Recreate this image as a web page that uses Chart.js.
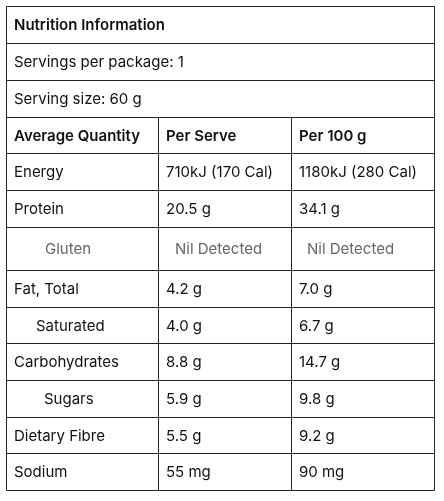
<!DOCTYPE html>
<html>
<head>
<meta charset="utf-8">
<script src="https://cdn.jsdelivr.net/npm/chart.js@4/dist/chart.umd.min.js"></script>
<style>
  html, body { margin: 0; padding: 0; background: #fff; }
  #wrap { width: 444px; height: 501px; position: relative; }
</style>
</head>
<body>
<div id="wrap"><canvas id="tabla"></canvas></div>
<script>
// Datos de la tabla
const titulo = 'Nutrition Information';
const infoLineas = ['Servings per package: 1', 'Serving size: 60 g'];
const encabezados = ['Average Quantity', 'Per Serve', 'Per 100 g'];
const nutrientes = ['Energy', 'Protein', 'Gluten', 'Fat, Total', 'Saturated', 'Carbohydrates', 'Sugars', 'Dietary Fibre', 'Sodium'];
const porPorcion = ['710kJ (170 Cal)', '20.5 g', 'Nil Detected', '4.2 g', '4.0 g', '8.8 g', '5.9 g', '5.5 g', '55 mg'];
const por100g = ['1180kJ (280 Cal)', '34.1 g', 'Nil Detected', '7.0 g', '6.7 g', '14.7 g', '9.8 g', '9.2 g', '90 mg'];
const sangria = [0, 0, 1, 0, 1, 0, 1, 0, 0];

document.addEventListener('DOMContentLoaded', function () {
  const canvas = document.getElementById('tabla');
  if (!canvas || typeof Chart === 'undefined') { console.warn('Chart.js no está cargado'); return; }

  /* ===== Tabla dibujada como plugin ===== */
  const tablaPlugin = {
    id: 'tablaNutricional',
    afterDraw(chart) {
      const ctx = chart.ctx;
      const L = 6, R = 434, C1 = 158, C2 = 291;
      const alturas = [37, 37, 37, 36, 37, 37, 43, 37, 36, 37, 37, 36, 37];
      let y = 6;
      const filas = [];
      alturas.forEach(h => { filas.push([y, y + h]); y += h; });
      const fondo = y;
      ctx.save();
      ctx.textBaseline = 'middle';
      const txt = (t, x, yc, bold, color, align) => {
        ctx.font = (bold ? '600 ' : '') + '15px Inter, "Noto Sans", sans-serif';
        ctx.fillStyle = color || '#111';
        ctx.textAlign = align || 'left';
        ctx.fillText(t, x, yc);
      };
      const mid = r => (filas[r][0] + filas[r][1]) / 2 + 1;
      txt(titulo, 14, mid(0), true);
      infoLineas.forEach((t, i) => txt(t, 14, mid(i + 1)));
      txt(encabezados[0], 14, mid(3), true);
      txt(encabezados[1], 166, mid(3), true);
      txt(encabezados[2], 299, mid(3), true);
      nutrientes.forEach((n, i) => {
        const r = i + 4;
        const gris = n === 'Gluten';
        const col = gris ? '#666' : '#111';
        const x0 = gris ? 45 : (sangria[i] ? 36 : 14);
        const xi = n === 'Sugars' ? 44 : x0;
        txt(n, xi, mid(r), false, col);
        txt(porPorcion[i], gris ? 175 : 166, mid(r), false, col);
        txt(por100g[i], gris ? 307 : 299, mid(r), false, col);
      });
      // líneas
      ctx.strokeStyle = '#222';
      ctx.lineWidth = 1;
      ctx.beginPath();
      ctx.rect(L + 0.5, 6.5, R - L, fondo - 6);
      filas.forEach((f, i) => { if (i > 0) { ctx.moveTo(L, f[0] + 0.5); ctx.lineTo(R, f[0] + 0.5); } });
      ctx.moveTo(C1 + 0.5, filas[3][0]); ctx.lineTo(C1 + 0.5, fondo);
      ctx.moveTo(C2 + 0.5, filas[3][0]); ctx.lineTo(C2 + 0.5, fondo);
      ctx.stroke();
      ctx.restore();
    }
  };

  new Chart(canvas.getContext('2d'), {
    type: 'bar',
    data: { labels: nutrientes, datasets: [{ data: [], label: titulo }] },
    options: {
      responsive: true,
      maintainAspectRatio: false,
      animation: false,
      events: [],
      layout: { padding: 0 },
      plugins: { legend: { display: false }, tooltip: { enabled: false } },
      scales: { x: { display: false }, y: { display: false } }
    },
    plugins: [tablaPlugin]
  });
});
</script>
</body>
</html>
